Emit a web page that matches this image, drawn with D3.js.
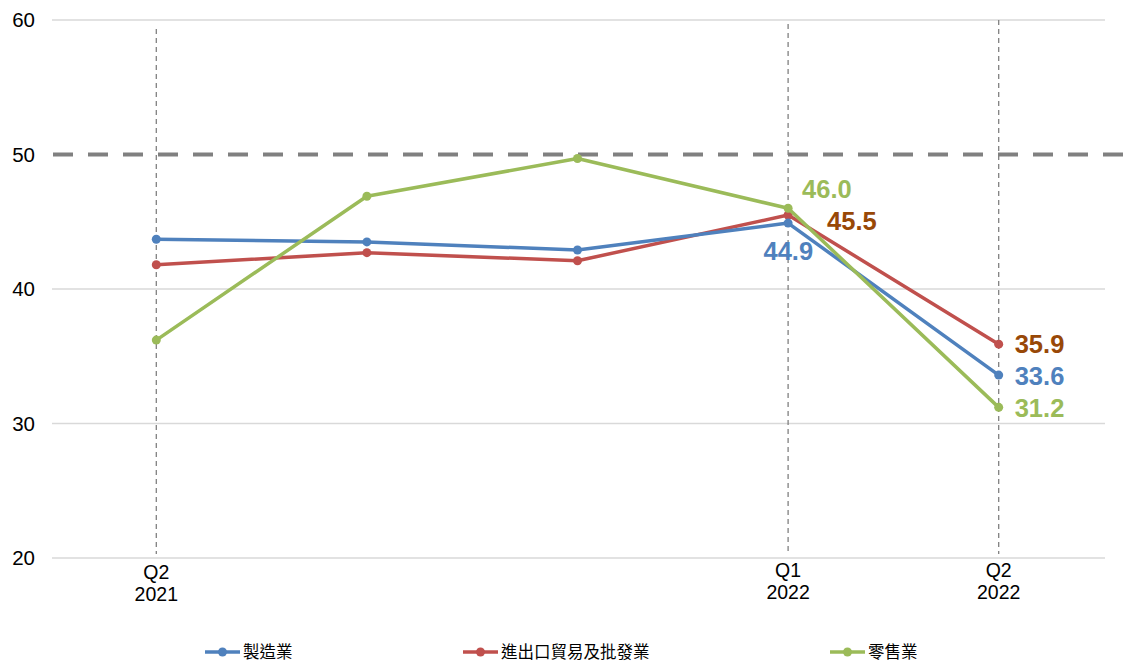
<!DOCTYPE html>
<html>
<head>
<meta charset="utf-8">
<script src="https://cdn.jsdelivr.net/npm/d3@7"></script>
<style>
  body { margin: 0; background: #fff; }
  svg text { font-family: "Liberation Sans", Arial, sans-serif; }
</style>
</head>
<body>
<div id="chart"></div>
<script>
// quarters along the x axis (only some get a label)
const quarters = ['Q2 2021', 'Q3 2021', 'Q4 2021', 'Q1 2022', 'Q2 2022'];
const tickLabels = [['Q2', '2021'], null, null, ['Q1', '2022'], ['Q2', '2022']];
const yTicks = [20, 30, 40, 50, 60];

const seriesNames = ['製造業', '進出口貿易及批發業', '零售業'];
const manufacturing = [43.7, 43.5, 42.9, 44.9, 33.6];
const tradeWholesale = [41.8, 42.7, 42.1, 45.5, 35.9];
const retail = [36.2, 46.9, 49.7, 46.0, 31.2];

const lineColors = ['#4f81bd', '#c0504d', '#9bbb59'];
const labelColors = ['#4f81bd', '#984807', '#9bbb59'];

const width = 1128, height = 665;
const margin = { top: 20, right: 23, bottom: 107, left: 52 };

const svg = d3.select('#chart').append('svg')
  .attr('width', width)
  .attr('height', height);

const x = d3.scaleBand()
  .domain(quarters)
  .range([margin.left, width - margin.right]);

const y = d3.scaleLinear()
  .domain([20, 60])
  .range([height - margin.bottom, margin.top]);

const cx = (q) => x(q) + x.bandwidth() / 2 - 1;

// horizontal gridlines
svg.append('g')
  .selectAll('line')
  .data(yTicks.filter(t => t !== 50))
  .enter()
  .append('line')
  .attr('x1', margin.left)
  .attr('x2', width - margin.right)
  .attr('y1', d => y(d))
  .attr('y2', d => y(d))
  .attr('stroke', '#d9d9d9')
  .attr('stroke-width', 1.3);

// y labels
svg.append('g')
  .selectAll('text')
  .data(yTicks)
  .enter()
  .append('text')
  .attr('x', 35)
  .attr('y', d => y(d) + 7)
  .attr('text-anchor', 'end')
  .attr('font-size', 20.5)
  .attr('fill', '#000')
  .text(d => d);

// vertical dashed markers at labelled quarters
const marked = quarters.filter((q, i) => tickLabels[i]);
const markerTop = [29, 24, 20];
svg.append('g')
  .selectAll('line')
  .data(marked)
  .enter()
  .append('line')
  .attr('x1', d => cx(d))
  .attr('x2', d => cx(d))
  .attr('y1', (d, i) => markerTop[i])
  .attr('y2', y(20) - 4)
  .attr('stroke', '#808080')
  .attr('stroke-width', 1.3)
  .attr('stroke-dasharray', '5,4');

// 50 threshold
svg.append('line')
  .attr('x1', margin.left + 1)
  .attr('x2', width - margin.right + 20)
  .attr('y1', y(50))
  .attr('y2', y(50))
  .attr('stroke', '#808080')
  .attr('stroke-width', 4)
  .attr('stroke-dasharray', '20,15');

// x tick labels
const xl = svg.append('g')
  .selectAll('text')
  .data(quarters.map((q, i) => ({ q, lab: tickLabels[i] })).filter(d => d.lab))
  .enter()
  .append('text')
  .attr('text-anchor', 'middle')
  .attr('font-size', 19.5)
  .attr('fill', '#000');
xl.append('tspan')
  .attr('x', d => cx(d.q))
  .attr('y', d => d.q === 'Q2 2021' ? 579 : 577)
  .text(d => d.lab[0]);
xl.append('tspan')
  .attr('x', d => cx(d.q))
  .attr('dy', 21.5)
  .text(d => d.lab[1]);

// lines
const allSeries = [manufacturing, tradeWholesale, retail];
const line = d3.line()
  .x((d, i) => cx(quarters[i]))
  .y(d => y(d));

// draw order: red, blue, green (green on top)
[1, 0, 2].forEach(s => {
  const g = svg.append('g');
  g.append('path')
    .datum(allSeries[s])
    .attr('d', line)
    .attr('fill', 'none')
    .attr('stroke', lineColors[s])
    .attr('stroke-width', 3.5)
    .attr('stroke-linejoin', 'round');
  g.selectAll('circle')
    .data(allSeries[s])
    .enter()
    .append('circle')
    .attr('cx', (d, i) => cx(quarters[i]))
    .attr('cy', d => y(d))
    .attr('r', 4.5)
    .attr('fill', lineColors[s]);
});

// value labels on the last two quarters (dy = baseline offset from the point)
const labels = [
  { s: 2, i: 3, dx: 14, dy: -10, anchor: 'start' },
  { s: 1, i: 3, dx: 39, dy: 15, anchor: 'start' },
  { s: 0, i: 3, dx: 25, dy: 37, anchor: 'end' },
  { s: 1, i: 4, dx: 16, dy: 9, anchor: 'start' },
  { s: 0, i: 4, dx: 16, dy: 10, anchor: 'start' },
  { s: 2, i: 4, dx: 16, dy: 10, anchor: 'start' }
];
svg.append('g')
  .selectAll('text')
  .data(labels)
  .enter()
  .append('text')
  .attr('x', d => cx(quarters[d.i]) + d.dx)
  .attr('y', d => y(allSeries[d.s][d.i]) + d.dy)
  .attr('text-anchor', d => d.anchor)
  .attr('font-size', 25.5)
  .attr('font-weight', 'bold')
  .attr('fill', d => labelColors[d.s])
  .text(d => allSeries[d.s][d.i].toFixed(1));

// legend
const legendX = [205, 463, 830];
const lg = svg.append('g')
  .selectAll('g')
  .data(seriesNames)
  .enter()
  .append('g')
  .attr('transform', (d, i) => `translate(${legendX[i]},652)`);
lg.append('line')
  .attr('x1', 0).attr('x2', 35)
  .attr('stroke', (d, i) => lineColors[i])
  .attr('stroke-width', 3.5);
lg.append('circle')
  .attr('cx', 17.5)
  .attr('r', 4.5)
  .attr('fill', (d, i) => lineColors[i]);
lg.append('text')
  .attr('x', 38)
  .attr('y', 6)
  .attr('font-size', 16.5)
  .attr('fill', '#000')
  .style('font-family', '"Noto Sans CJK TC", sans-serif')
  .text(d => d);
</script>
</body>
</html>
